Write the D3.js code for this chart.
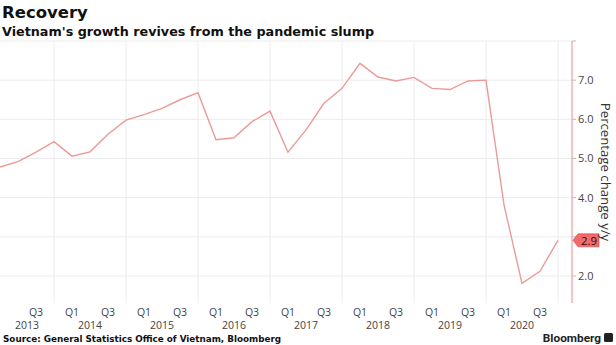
<!DOCTYPE html>
<html>
<head>
<meta charset="utf-8">
<script src="https://cdn.jsdelivr.net/npm/d3@7"></script>
<style>
  html, body { margin: 0; padding: 0; background: #fff; }
  svg { display: block; }
</style>
</head>
<body>
<svg id="chart" width="616" height="345"></svg>
<script>
// Vietnam GDP growth, year-to-date, % change y/y, quarterly 2013 Q1 – 2020 Q4
const quarters = [
  "2013Q1","2013Q2","2013Q3","2013Q4",
  "2014Q1","2014Q2","2014Q3","2014Q4",
  "2015Q1","2015Q2","2015Q3","2015Q4",
  "2016Q1","2016Q2","2016Q3","2016Q4",
  "2017Q1","2017Q2","2017Q3","2017Q4",
  "2018Q1","2018Q2","2018Q3","2018Q4",
  "2019Q1","2019Q2","2019Q3","2019Q4",
  "2020Q1","2020Q2","2020Q3","2020Q4"
];
const growth = [
  4.78, 4.92, 5.16, 5.43,
  5.06, 5.17, 5.62, 5.98,
  6.12, 6.28, 6.50, 6.68,
  5.48, 5.53, 5.94, 6.21,
  5.16, 5.73, 6.41, 6.79,
  7.43, 7.08, 6.98, 7.07,
  6.79, 6.76, 6.98, 7.00,
  3.82, 1.81, 2.12, 2.91
];
const yTicks = [2, 3, 4, 5, 6, 7, 8];
const quarterLabels = ["Q1", "Q3"];
const years = [2013, 2014, 2015, 2016, 2017, 2018, 2019, 2020];
const lastLabel = "2.9";

const svg = d3.select("#chart");
const plot = { left: 0, right: 572, top: 41, bottom: 303 };

const x = d3.scaleLinear().domain([0, 31.78]).range([plot.left, plot.right]);
const y = d3.scaleLinear().domain([1.31, 8]).range([plot.bottom, plot.top]);

const sans = "'Open Sans', 'Noto Sans', sans-serif";
const heavy = "'DejaVu Sans', Verdana, sans-serif";

// Title block
svg.append("text").attr("x", 2).attr("y", 18)
  .style("font-family", heavy).style("font-weight", "bold").style("font-size", "16.5px")
  .attr("fill", "#111").text("Recovery");
svg.append("text").attr("x", 2).attr("y", 36)
  .style("font-family", heavy).style("font-weight", "bold").style("font-size", "12.75px")
  .attr("fill", "#111").text("Vietnam's growth revives from the pandemic slump");

const g = svg.append("g");

// Horizontal gridlines
g.selectAll("line.hgrid").data(yTicks).join("line")
  .attr("class", "hgrid")
  .attr("x1", plot.left).attr("x2", plot.right)
  .attr("y1", d => y(d)).attr("y2", d => y(d))
  .attr("stroke", "#ececec").attr("stroke-width", 1);

// Vertical gridlines at each Q4
const q4 = d3.range(3, quarters.length, 4);
g.selectAll("line.vgrid").data(q4).join("line")
  .attr("class", "vgrid")
  .attr("x1", d => x(d)).attr("x2", d => x(d))
  .attr("y1", plot.top).attr("y2", plot.bottom)
  .attr("stroke", "#ececec").attr("stroke-width", 1);

// Quarter tick labels (Q1 / Q3), skipping ones clipped at the left edge
const qIdx = d3.range(quarters.length).filter(i => {
  const q = quarters[i].slice(4);
  return quarterLabels.includes(q) && x(i) > 10;
});
g.selectAll("text.qlab").data(qIdx).join("text")
  .attr("class", "qlab")
  .attr("x", d => x(d)).attr("y", 316)
  .attr("text-anchor", "middle")
  .style("font-family", sans).style("font-size", "10.5px")
  .attr("fill", "#444")
  .text(d => quarters[d].slice(4));

// Year labels centred under Q2
g.selectAll("text.ylab").data(years).join("text")
  .attr("class", "ylab")
  .attr("x", (d, i) => Math.max(x(i * 4 + 1), 27)).attr("y", 329)
  .attr("text-anchor", "middle")
  .style("font-family", sans).style("font-size", "10.5px")
  .attr("fill", "#444")
  .text(d => d);

// Right axis
const axisColor = "#f39b9b";
g.append("line")
  .attr("x1", plot.right).attr("x2", plot.right)
  .attr("y1", plot.top).attr("y2", plot.bottom)
  .attr("stroke", axisColor).attr("stroke-width", 1.2);
g.selectAll("line.ytick").data(yTicks).join("line")
  .attr("class", "ytick")
  .attr("x1", plot.right).attr("x2", plot.right + 4)
  .attr("y1", d => y(d)).attr("y2", d => y(d))
  .attr("stroke", "#bbb");

// Last-value flag position (its tick label is hidden beneath the flag)
const lastV = growth[growth.length - 1];
const fy = y(lastV);
g.selectAll("text.ytl")
  .data(yTicks.filter(d => d < 8 && Math.abs(y(d) - fy) > 10))
  .join("text")
  .attr("class", "ytl")
  .attr("x", plot.right + 6).attr("y", d => y(d) + 4)
  .style("font-family", sans).style("font-size", "11px")
  .attr("fill", "#444")
  .text(d => d3.format(".1f")(d));

// Axis title
svg.append("text")
  .attr("transform", `translate(601,172) rotate(90)`)
  .attr("text-anchor", "middle")
  .style("font-family", sans).style("font-size", "13.2px")
  .attr("fill", "#333")
  .text("Percentage change y/y");

// Series line
const line = d3.line().x((d, i) => x(i)).y(d => y(d));
g.append("path").datum(growth)
  .attr("d", line)
  .attr("fill", "none")
  .attr("stroke", "#eb9a9a")
  .attr("stroke-width", 1.4)
  .attr("stroke-linejoin", "miter");

// Last-value flag on the axis
const fx = plot.right + 1;
g.append("path")
  .attr("d", `M${fx},${fy} L${fx + 5},${fy - 6.5} L${fx + 26},${fy - 6.5} L${fx + 26},${fy + 6.5} L${fx + 5},${fy + 6.5} Z`)
  .attr("fill", "#f26a6a").attr("stroke", "#c44").attr("stroke-width", 0.6);
g.append("text")
  .attr("x", fx + 16).attr("y", fy + 4.5)
  .attr("text-anchor", "middle")
  .style("font-family", sans).style("font-size", "11.5px")
  .attr("fill", "#3a0a0a")
  .text(lastLabel);

// Footer
svg.append("text").attr("x", 3).attr("y", 342)
  .style("font-family", heavy).style("font-weight", "bold").style("font-size", "8.8px")
  .attr("fill", "#111").text("Source: General Statistics Office of Vietnam, Bloomberg");
svg.append("text").attr("x", 601).attr("y", 342)
  .attr("text-anchor", "end")
  .style("font-family", "'Roboto', sans-serif").style("font-weight", "bold").style("font-size", "11.8px")
  .attr("fill", "#222").text("Bloomberg");
svg.append("rect").attr("x", 604).attr("y", 333).attr("width", 9).attr("height", 9)
  .attr("rx", 1.5).attr("fill", "#222");
</script>
</body>
</html>
